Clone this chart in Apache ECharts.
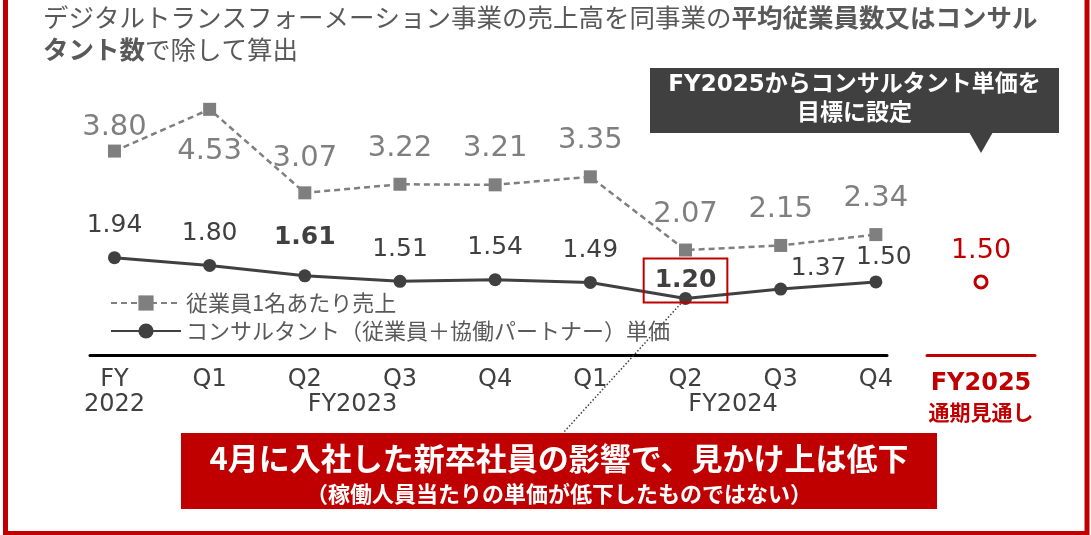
<!DOCTYPE html>
<html>
<head>
<meta charset="utf-8">
<script src="https://cdn.jsdelivr.net/npm/echarts@6/dist/echarts.min.js"></script>
<style>
  html, body { margin: 0; padding: 0; background: #ffffff; }
  #chart { width: 1091px; height: 535px; }
</style>
</head>
<body>
<div id="chart"></div>
<script>
// ---- data ----
const periods = ['FY\n2022', 'Q1', 'Q2', 'Q3', 'Q4', 'Q1', 'Q2', 'Q3', 'Q4'];
const fiscalYears = [
  { name: 'FY2023', first: 1, last: 4 },
  { name: 'FY2024', first: 5, last: 8 }
];
const salesPerEmployee = [3.80, 4.53, 3.07, 3.22, 3.21, 3.35, 2.07, 2.15, 2.34];
const consultantRate   = [1.94, 1.80, 1.61, 1.51, 1.54, 1.49, 1.20, 1.37, 1.50];
const forecastPeriods  = ['FY2025'];
const forecastRate     = [1.50];
const seriesNames = ['従業員1名あたり売上', 'コンサルタント（従業員＋協働パートナー）単価'];

// ---- styling ----
const RED = '#C00000';
const DARK = '#404040';
const GRAY = '#7f7f7f';
const TEXT_GRAY = '#595959';
const NUM_FONT = '"DejaVu Sans", "Noto Sans CJK JP", sans-serif';
const JP_FONT = '"Noto Sans CJK JP", "DejaVu Sans", sans-serif';

// per-point label placement tweaks
const grayLabelTweaks = {
  0: { distance: 3 },
  1: { position: 'bottom', distance: 21 },
  2: { distance: 13 }
};
const darkLabelTweaks = {
  2: { distance: 19, fontWeight: 'bold' },
  6: {
    position: 'inside', offset: [0, -18], fontWeight: 'bold',
    borderColor: RED, borderWidth: 2, padding: [4, 11, 15, 11]
  },
  7: { distance: 2, offset: [38, 0] },
  8: { distance: 5, offset: [8, 0] }
};
const calloutIndex = 6; // point annotated by the leader line

const chart = echarts.init(document.getElementById('chart'), null, { renderer: 'canvas' });

const grid0 = { left: 90, width: 797, top: 100, height: 255 };
const grid1 = { left: 927, width: 108, top: 100, height: 255 };
const xMin = -0.257, xMax = 8.117;

const option = {
  backgroundColor: '#ffffff',
  animation: false,
  grid: [grid0, grid1],
  legend: {
    orient: 'vertical',
    left: 110,
    top: 292,
    padding: 0,
    itemGap: 6,
    itemWidth: 70,
    itemHeight: 19,
    data: seriesNames,
    textStyle: { fontSize: 22, color: TEXT_GRAY, fontFamily: JP_FONT }
  },
  xAxis: [
    {
      type: 'value', gridIndex: 0, position: 'bottom', min: xMin, max: xMax,
      axisLine: { show: true, lineStyle: { color: '#000000', width: 3 } },
      axisTick: { show: false },
      splitLine: { show: false },
      axisLabel: {
        customValues: periods.map((_, i) => i),
        formatter: v => periods[Math.round(v)],
        margin: 12, fontSize: 24, lineHeight: 25,
        color: DARK, fontFamily: NUM_FONT
      }
    },
    {
      type: 'value', gridIndex: 0, position: 'bottom', min: xMin, max: xMax,
      axisLine: { show: false }, axisTick: { show: false }, splitLine: { show: false },
      axisLabel: {
        customValues: fiscalYears.map(f => (f.first + f.last) / 2),
        formatter: v => {
          const f = fiscalYears.find(g => Math.abs((g.first + g.last) / 2 - v) < 1e-6);
          return f ? f.name : '';
        },
        margin: 37, fontSize: 24, lineHeight: 25,
        color: DARK, fontFamily: NUM_FONT
      }
    },
    {
      type: 'category', gridIndex: 1, data: forecastPeriods,
      axisLine: { show: true, lineStyle: { color: RED, width: 3 } },
      axisTick: { show: false },
      axisLabel: {
        margin: 14,
        formatter: v => '{a|' + v + '}\n{b|通期見通し}',
        rich: {
          a: { fontSize: 24, fontWeight: 'bold', color: RED, fontFamily: NUM_FONT, lineHeight: 29 },
          b: { fontSize: 21, fontWeight: 'bold', color: RED, fontFamily: JP_FONT, lineHeight: 29 }
        }
      }
    }
  ],
  yAxis: [
    { type: 'value', gridIndex: 0, min: 0.235, max: 4.693, show: false, splitLine: { show: false } },
    { type: 'value', gridIndex: 0, min: 0.171, max: 4.807, show: false, splitLine: { show: false } },
    { type: 'value', gridIndex: 1, min: 0.171, max: 4.807, show: false, splitLine: { show: false } }
  ],
  series: [
    {
      name: seriesNames[0],
      type: 'line',
      xAxisIndex: 0, yAxisIndex: 0,
      symbol: 'rect', symbolSize: 13,
      itemStyle: { color: GRAY },
      lineStyle: { color: GRAY, width: 2.5, type: [6, 4] },
      label: {
        show: true, position: 'top', distance: 15,
        fontSize: 29, color: GRAY, fontFamily: NUM_FONT,
        formatter: p => p.value[1].toFixed(2)
      },
      data: salesPerEmployee.map((v, i) => ({
        value: [i, v],
        label: grayLabelTweaks[i] || {}
      })),
      z: 3
    },
    {
      name: seriesNames[1],
      type: 'line',
      xAxisIndex: 0, yAxisIndex: 1,
      symbol: 'circle', symbolSize: 13,
      itemStyle: { color: DARK },
      lineStyle: { color: DARK, width: 3 },
      label: {
        show: true, position: 'top', distance: 13,
        fontSize: 25, color: DARK, fontFamily: NUM_FONT,
        formatter: p => p.value[1].toFixed(2)
      },
      data: consultantRate.map((v, i) => ({
        value: [i, v],
        label: darkLabelTweaks[i] || {}
      })),
      z: 4
    },
    {
      name: 'FY2025見通し',
      type: 'line',
      xAxisIndex: 2, yAxisIndex: 2,
      symbol: 'circle', symbolSize: 12,
      itemStyle: { color: '#ffffff', borderColor: RED, borderWidth: 3 },
      label: {
        show: true, position: 'top', distance: 10,
        fontSize: 27, color: RED, fontFamily: NUM_FONT,
        formatter: p => Number(p.value).toFixed(2)
      },
      data: forecastRate,
      z: 4
    }
  ],
  graphic: [
    // frame on the left, right and bottom edges
    {
      type: 'polyline', silent: true,
      shape: { points: [[5.5, 0], [5.5, 533.5], [1087, 533.5], [1087, 0]] },
      style: { stroke: RED, lineWidth: 5, fill: null }
    },
    // heading
    {
      type: 'text', left: 43, top: 5, silent: true,
      style: {
        text: '{n|デジタルトランスフォーメーション事業の売上高を同事業の}{b|平均従業員数又はコンサル}\n{b|タント数}{n|で除して算出}',
        fill: TEXT_GRAY,
        rich: {
          n: { fontSize: 25.5, fill: TEXT_GRAY, fontFamily: JP_FONT, lineHeight: 32 },
          b: { fontSize: 25.5, fill: TEXT_GRAY, fontWeight: 'bold', fontFamily: JP_FONT, lineHeight: 32 }
        }
      }
    },
    // target callout
    {
      type: 'group', silent: true,
      children: [
        { type: 'rect', shape: { x: 650, y: 68, width: 409, height: 65 }, style: { fill: '#404040' } },
        { type: 'polygon', shape: { points: [[969, 132], [993, 132], [981, 153]] }, style: { fill: '#404040' } },
        {
          type: 'text', x: 854.5, y: 71,
          style: {
            text: '{a|FY2025からコンサルタント単価を}\n{a|目標に設定}',
            align: 'center',
            fill: '#ffffff',
            rich: { a: { fontSize: 23, fontWeight: 'bold', fill: '#ffffff', fontFamily: NUM_FONT, lineHeight: 29, align: 'center' } }
          }
        }
      ]
    },
    // explanatory note
    {
      type: 'group', silent: true,
      children: [
        { type: 'rect', shape: { x: 181, y: 433, width: 756, height: 76 }, style: { fill: RED } },
        {
          type: 'text', x: 559, y: 439,
          style: {
            text: '{a|4月に入社した新卒社員の影響で、見かけ上は低下}\n{b|（稼働人員当たりの単価が低下したものではない）}',
            align: 'center',
            fill: '#ffffff',
            rich: {
              a: { fontSize: 31, fontWeight: 'bold', fill: '#ffffff', fontFamily: JP_FONT, lineHeight: 38, align: 'center' },
              b: { fontSize: 22, fontWeight: 'bold', fill: '#ffffff', fontFamily: JP_FONT, lineHeight: 34, align: 'center' }
            }
          }
        }
      ]
    }
  ]
};

chart.setOption(option);

// leader line from the annotated point down to the note
const p = chart.convertToPixel({ xAxisIndex: 0, yAxisIndex: 1 }, [calloutIndex, consultantRate[calloutIndex]]);
chart.setOption({
  graphic: option.graphic.concat([{
    type: 'line', silent: true, z: 1,
    shape: { x1: p[0], y1: p[1], x2: 563, y2: 433 },
    style: { stroke: '#404040', lineWidth: 1.5, lineDash: [1.5, 2] }
  }])
});
</script>
</body>
</html>
